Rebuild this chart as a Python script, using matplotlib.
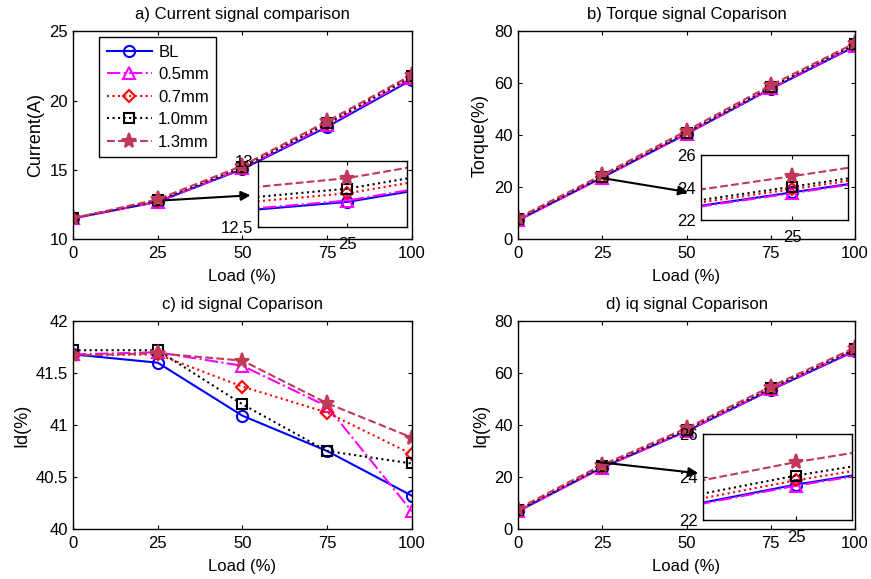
import numpy as np
import matplotlib
matplotlib.use("Agg")
import matplotlib.pyplot as plt

plt.rcParams['font.family'] = ['Liberation Sans', 'DejaVu Sans']
plt.rcParams['font.size'] = 12

load = [0, 25, 50, 75, 100]
names = ['BL', '0.5mm', '0.7mm', '1.0mm', '1.3mm']

# a) current (A)
cur_bl = [11.5, 12.69, 15.05, 18.10, 21.50]
cur_05 = [11.5, 12.70, 15.10, 18.20, 21.60]
cur_07 = [11.5, 12.755, 15.15, 18.30, 21.70]
cur_10 = [11.5, 12.79, 15.20, 18.35, 21.75]
cur_13 = [11.5, 12.87, 15.30, 18.50, 21.85]

# b) torque (%)
tq_bl = [7.2, 23.70, 40.5, 57.8, 74.2]
tq_05 = [7.2, 23.65, 40.6, 58.0, 74.5]
tq_07 = [7.5, 23.90, 40.8, 58.3, 74.8]
tq_10 = [7.6, 24.05, 41.0, 58.5, 75.0]
tq_13 = [8.2, 24.70, 41.7, 59.2, 75.5]

# c) id (%)
id_bl = [41.68, 41.60, 41.09, 40.75, 40.32]
id_05 = [41.68, 41.70, 41.57, 41.18, 40.17]
id_07 = [41.67, 41.68, 41.37, 41.12, 40.72]
id_10 = [41.72, 41.72, 41.20, 40.75, 40.63]
id_13 = [41.67, 41.69, 41.62, 41.21, 40.88]

# d) iq (%)
iq_bl = [6.8, 23.65, 37.6, 53.5, 68.5]
iq_05 = [6.8, 23.60, 37.7, 53.7, 68.8]
iq_07 = [7.1, 23.85, 38.0, 54.0, 69.0]
iq_10 = [7.2, 24.07, 38.2, 54.2, 69.2]
iq_13 = [7.8, 24.70, 38.8, 54.8, 69.8]

styles = [
    dict(color='#0000ff', ls='-', marker='o', mfc='none', ms=8),
    dict(color='#ff00ff', ls='-.', marker='^', mfc='none', ms=9),
    dict(color='#ff0000', ls=':', marker='D', mfc='none', ms=6.5),
    dict(color='#000000', ls=':', marker='s', mfc='none', ms=7.5),
    dict(color='#c0395a', ls='--', marker='*', ms=11),
]


def draw(ax, series, markers=True):
    for s, st, nm in zip(series, styles, names):
        kw = dict(st)
        if not markers:
            kw['markevery'] = [1]
        ax.plot(load, s, lw=1.5, mew=1.5, label=nm, **kw)


def style_ax(ax):
    ax.tick_params(direction='in', top=True, right=True, length=3)
    for sp in ax.spines.values():
        sp.set_linewidth(1.0)


def inset(fig, ax, series, rect, xlim, ylim, yticks, arrow_from, arrow_to):
    ins = fig.add_axes(rect)
    draw(ins, series, markers=False)
    ins.set_xlim(xlim)
    ins.set_ylim(ylim)
    ins.set_xticks([25])
    ins.set_yticks(yticks)
    ins.set_yticklabels([('%g' % v) for v in yticks])
    style_ax(ins)
    ins.tick_params(axis='x', pad=7)
    ax.annotate('', xy=arrow_to, xycoords=ins.transAxes, xytext=arrow_from,
                textcoords='data',
                arrowprops=dict(arrowstyle='-|>', color='k', lw=1.5,
                                mutation_scale=14, shrinkA=0, shrinkB=0))
    return ins


fig = plt.figure(figsize=(8.71, 5.79), dpi=100)

axa = fig.add_axes([0.0838, 0.587, 0.389, 0.359])
axb = fig.add_axes([0.5947, 0.587, 0.387, 0.359])
axc = fig.add_axes([0.0838, 0.0864, 0.389, 0.359])
axd = fig.add_axes([0.5947, 0.0864, 0.387, 0.359])

draw(axa, [cur_bl, cur_05, cur_07, cur_10, cur_13])
axa.set_ylim(10, 25)
axa.set_yticks([10, 15, 20, 25])
axa.set_ylabel('Current(A)', fontsize=13)
axa.set_title('a) Current signal comparison', fontsize=12, pad=9)
leg = axa.legend(loc='upper left', fancybox=False, edgecolor='k',
                 framealpha=1, handlelength=2.7, borderpad=0.45,
                 labelspacing=0.45, handletextpad=0.4,
                 bbox_to_anchor=(0.077, 0.971), borderaxespad=0)
leg.get_frame().set_linewidth(1.0)

draw(axb, [tq_bl, tq_05, tq_07, tq_10, tq_13])
axb.set_ylim(0, 80)
axb.set_yticks([0, 20, 40, 60, 80])
axb.set_ylabel('Torque(%)', fontsize=13)
axb.set_title('b) Torque signal Coparison', fontsize=12, pad=9)

draw(axc, [id_bl, id_05, id_07, id_10, id_13])
axc.set_ylim(40, 42)
axc.set_yticks([40, 40.5, 41, 41.5, 42])
axc.set_yticklabels(['40', '40.5', '41', '41.5', '42'])
axc.set_ylabel('Id(%)', fontsize=13)
axc.set_title('c) id signal Coparison', fontsize=12, pad=9)

draw(axd, [iq_bl, iq_05, iq_07, iq_10, iq_13])
axd.set_ylim(0, 80)
axd.set_yticks([0, 20, 40, 60, 80])
axd.set_ylabel('Iq(%)', fontsize=13)
axd.set_title('d) iq signal Coparison', fontsize=12, pad=9)

for ax in (axa, axb, axc, axd):
    ax.set_xlim(0, 100)
    ax.set_xticks(load)
    ax.set_xlabel('Load (%)', labelpad=6)
    style_ax(ax)
    ax.tick_params(axis='x', pad=5)

inset(fig, axa, [cur_bl, cur_05, cur_07, cur_10, cur_13],
      [0.2962, 0.608, 0.171, 0.114], (23.8, 25.8), (12.5, 13.0), [12.5, 13],
      (27, 12.8), (-0.05, 0.48))
inset(fig, axb, [tq_bl, tq_05, tq_07, tq_10, tq_13],
      [0.8045, 0.620, 0.169, 0.112], (23.76, 25.76), (22, 26), [22, 24, 26],
      (25, 23.5), (-0.086, 0.43))
inset(fig, axd, [iq_bl, iq_05, iq_07, iq_10, iq_13],
      [0.8068, 0.102, 0.1714, 0.148], (23.75, 25.75), (22, 26), [22, 24, 26],
      (23.4, 25.8), (-0.03, 0.545))

fig.savefig('out.png', dpi=100)
